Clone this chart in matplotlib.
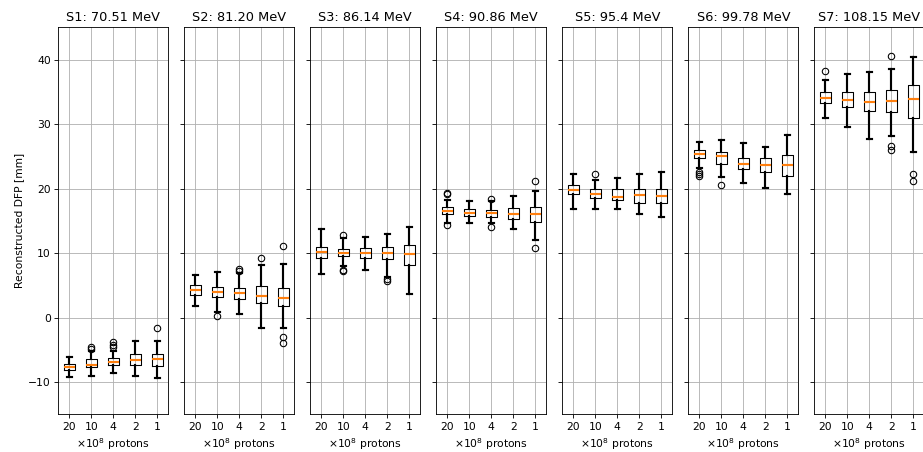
import matplotlib
matplotlib.use('Agg')
import matplotlib.pyplot as plt

# reconstructed distal fall-off position per spot energy and proton count
titles = ['S1: 70.51 MeV', 'S2: 81.20 MeV', 'S3: 86.14 MeV', 'S4: 90.86 MeV',
          'S5: 95.4 MeV', 'S6: 99.78 MeV', 'S7: 108.15 MeV']
protons = ['20', '10', '4', '2', '1']

med = [[-7.7, -7.3, -6.9, -6.6, -6.4],
       [4.3, 3.9, 3.75, 3.3, 3.0],
       [10.2, 10.05, 10.05, 10.0, 9.8],
       [16.5, 16.2, 16.2, 16.1, 16.1],
       [19.8, 19.2, 18.75, 19.05, 18.9],
       [25.3, 25.0, 23.8, 23.7, 23.7],
       [34.0, 33.7, 33.4, 33.6, 33.9]]
q1 = [[-8.1, -7.7, -7.3, -7.4, -7.5],
      [3.55, 3.2, 2.8, 2.2, 1.75],
      [9.3, 9.6, 9.3, 9.1, 8.1],
      [16.0, 15.7, 15.6, 15.3, 14.8],
      [19.1, 18.5, 18.2, 17.7, 17.8],
      [24.8, 23.85, 23.0, 22.6, 21.95],
      [33.2, 32.6, 32.0, 31.9, 30.9]]
q3 = [[-7.15, -6.5, -6.2, -5.7, -5.7],
      [5.0, 4.8, 4.65, 4.85, 4.6],
      [11.0, 10.7, 10.8, 10.9, 11.2],
      [17.1, 16.8, 16.6, 17.0, 17.1],
      [20.55, 19.9, 19.9, 19.9, 20.0],
      [26.0, 25.6, 24.7, 24.7, 25.25],
      [34.9, 35.0, 35.0, 35.3, 36.05]]
whislo = [[-9.2, -9.0, -8.6, -9.1, -9.3],
          [1.75, 0.8, 0.5, -1.55, -1.65],
          [6.8, 8.0, 7.4, 6.3, 3.6],
          [14.7, 14.6, 14.7, 13.8, 12.0],
          [16.85, 16.85, 16.85, 16.0, 15.65],
          [23.2, 21.8, 20.9, 20.1, 19.2],
          [30.9, 29.5, 27.7, 28.2, 25.65]]
whishi = [[-6.1, -5.2, -5.2, -3.7, -3.7],
          [6.6, 7.0, 6.9, 8.1, 8.35],
          [13.7, 12.3, 12.5, 13.0, 14.1],
          [18.2, 18.0, 18.0, 18.9, 19.6],
          [22.25, 21.3, 21.7, 22.25, 22.55],
          [27.2, 27.5, 27.05, 26.5, 28.3],
          [36.9, 37.75, 38.0, 38.5, 40.4]]
fliers = [[[], [-4.5, -4.9], [-3.8, -4.2, -4.5], [], [-1.6]],
          [[], [0.26], [7.6, 7.15], [9.3], [11.1, -3.0, -4.0]],
          [[], [12.8, 7.4, 7.2], [], [6.0, 5.7], []],
          [[19.3, 19.1, 14.3], [], [18.4, 14.0], [], [21.1, 10.8]],
          [[], [22.25], [], [], []],
          [[22.6, 22.3, 21.9], [20.5], [], [], []],
          [[38.2], [], [], [40.6, 26.6, 26.0], [22.25, 21.1]]]

fig, axes = plt.subplots(1, 7, sharey=True, figsize=(923 / 77, 452 / 77), dpi=77)
fig.subplots_adjust(left=58.3 / 923, right=924.3 / 923, bottom=0.0834, top=0.9396,
                    wspace=16 / 110)

for i, ax in enumerate(axes):
    stats = []
    for j in range(len(protons)):
        stats.append(dict(med=med[i][j], q1=q1[i][j], q3=q3[i][j],
                          whislo=whislo[i][j], whishi=whishi[i][j],
                          fliers=fliers[i][j]))
    ax.bxp(stats, positions=range(1, 6), widths=0.5,
           whiskerprops=dict(color='k', linewidth=2),
           capprops=dict(color='k', linewidth=2),
           medianprops=dict(color='C1', linewidth=2))
    ax.set_xticks(range(1, 6))
    ax.set_xticklabels(protons)
    ax.set_xlim(0.5, 5.5)
    ax.set_title(titles[i])
    ax.set_xlabel(r'$\times10^8$ protons')
    ax.grid(True)

axes[0].set_ylim(-15, 45)
axes[0].set_yticks([-10, 0, 10, 20, 30, 40])
axes[0].set_ylabel('Reconstructed DFP [mm]')

fig.savefig('out.png', dpi=77)
